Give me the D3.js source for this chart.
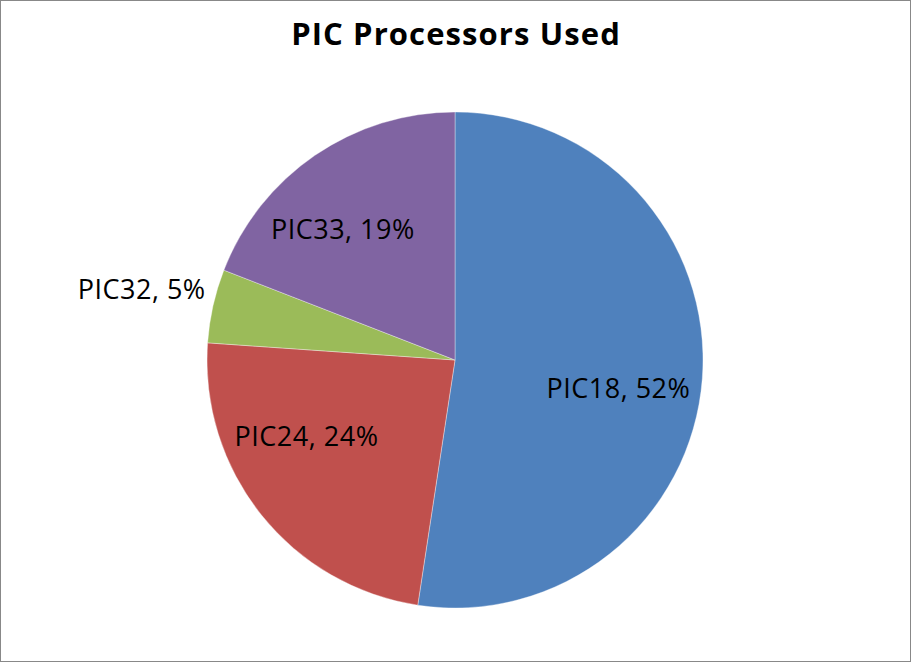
<!DOCTYPE html>
<html>
<head>
<meta charset="utf-8">
<script src="https://cdn.jsdelivr.net/npm/d3@7"></script>
<style>
  html, body { margin: 0; padding: 0; background: #fff; }
  svg { display: block; }
</style>
</head>
<body>
<script>
const categories = ["PIC18", "PIC24", "PIC32", "PIC33"];
const values = [52.4, 23.7, 4.8, 19.1];
const colors = ["#4F81BD", "#C0504D", "#9BBB59", "#8064A2"];
const title = "PIC Processors Used";

const W = 911, H = 662;
const cx = 455, cy = 360, R = 248;

const svg = d3.select("body").append("svg").attr("width", W).attr("height", H);
svg.append("rect").attr("x", 0.5).attr("y", 0.5).attr("width", W - 1).attr("height", H - 1)
  .attr("fill", "#fff").attr("stroke", "#888").attr("stroke-width", 1);

svg.append("text").attr("x", cx + 1).attr("y", 45).attr("text-anchor", "middle")
  .attr("font-family", "'Open Sans', Lato, sans-serif").attr("font-weight", "bold")
  .attr("font-size", 31).attr("letter-spacing", "1.1px").attr("fill", "#000").text(title);

const data = categories.map((c, i) => ({ name: c, value: values[i], color: colors[i] }));
const total = d3.sum(values);
const pie = d3.pie().value(d => d.value).sort(null);
const arcs = pie(data);
const arc = d3.arc().innerRadius(0).outerRadius(R);

const g = svg.append("g").attr("transform", `translate(${cx},${cy})`);
g.selectAll("path").data(arcs).join("path")
  .attr("d", arc).attr("fill", d => d.data.color)
  .attr("stroke", "#fff").attr("stroke-width", 0.6).attr("stroke-opacity", 0.6);

// label placement (best-fit style): angle shift (rad) and radius per slice
const labelPlace = [
  { da: 0.10, r: 166 },
  { da: 0.20, r: 167 },
  { da: 0.00, r: 321 },
  { da: -0.11, r: 172 }
];
g.selectAll("text.lbl").data(arcs).join("text")
  .attr("class", "lbl")
  .attr("transform", (d, i) => {
    const a = (d.startAngle + d.endAngle) / 2 + labelPlace[i].da;
    const r = labelPlace[i].r;
    return `translate(${r * Math.sin(a)},${-r * Math.cos(a)})`;
  })
  .attr("text-anchor", "middle").attr("dy", "0.35em")
  .attr("font-family", "'Open Sans', Lato, sans-serif").attr("font-size", 27)
  .attr("letter-spacing", "0.5px")
  .attr("fill", "#000")
  .text(d => `${d.data.name}, ${Math.round(d.data.value / total * 100)}%`);
</script>
</body>
</html>
